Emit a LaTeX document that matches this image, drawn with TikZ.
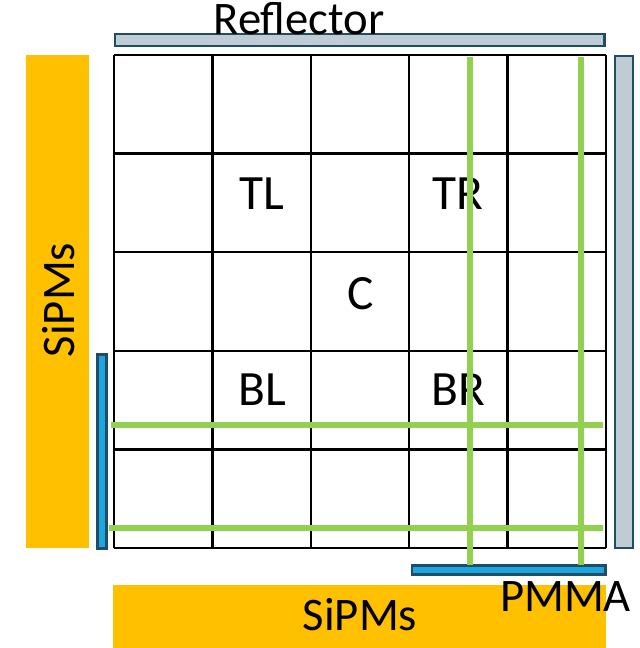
\documentclass[tikz,border=0pt]{standalone}
\usepackage{fontspec}
\setmainfont{Carlito}
\definecolor{sipmorange}{HTML}{FFC000}
\definecolor{reflgrey}{HTML}{BFCBD5}
\definecolor{refledge}{HTML}{1E4D65}
\definecolor{pmmablue}{HTML}{1BA6DF}
\definecolor{fibregreen}{HTML}{92D050}
\begin{document}
\begin{tikzpicture}[x=0.75pt,y=-0.75pt,
           sipm_style/.style={fill=sipmorange,draw=none},
           refl_style/.style={fill=reflgrey,draw=refledge,line width=2pt},
           pmma_style/.style={fill=pmmablue,draw=refledge,line width=2pt},
           grid_style/.style={draw=black,line width=1.9pt},
           fibre_style/.style={draw=fibregreen,line width=4.5pt},
           cell_label/.style={anchor=base,inner sep=0pt,font=\fontsize{37}{44}\selectfont},
           side_label/.style={anchor=base,inner sep=0pt,font=\fontsize{35}{42}\selectfont}]
            \useasboundingbox (0,0) rectangle (639,648);
            % SiPM arrays
            \fill[sipm_style] (26,55) rectangle (89,548);
            \fill[sipm_style] (113,585) rectangle (606,648);
            % reflector and PMMA bars
            \draw[refl_style] (115,34) rectangle (604.5,46);
            \draw[refl_style] (615,56) rectangle (633,548);
            \draw[pmma_style] (97.3,354.3) rectangle (106.5,548.7);
            \draw[pmma_style] (412,565.3) rectangle (605.7,574.7);
            % 5x5 grid
            \foreach \i in {0,...,5} {
                \draw[grid_style] (114+98.4*\i,55) -- (114+98.4*\i,548);
                \draw[grid_style] (114,55+98.6*\i) -- (606,55+98.6*\i);
            }
            \node[cell_label] (tl) at (262,210) {TL};
            \node[cell_label] (tr) at (458,210) {TR};
            \node[cell_label] (c) at (361,309) {C};
            \node[cell_label] (bl) at (262,405) {BL};
            \node[cell_label] (br) at (458,405) {BR};
            \node[side_label] (reflector) at (299,34.5) {Reflector};
            \node[side_label] (sipms_bottom) at (360,630) {SiPMs};
            \node[side_label,rotate=90] (sipms_left) at (74,300) {SiPMs};
            \node[side_label] (pmma) at (565.5,611) {PMMA};
            % fibres
            \draw[fibre_style] (470,57) -- (470,565);
            \draw[fibre_style] (580.7,57) -- (580.7,565);
            \draw[fibre_style] (110.7,425) -- (603,425);
            \draw[fibre_style] (109,528) -- (603,528);
        \end{tikzpicture}
\end{document}
